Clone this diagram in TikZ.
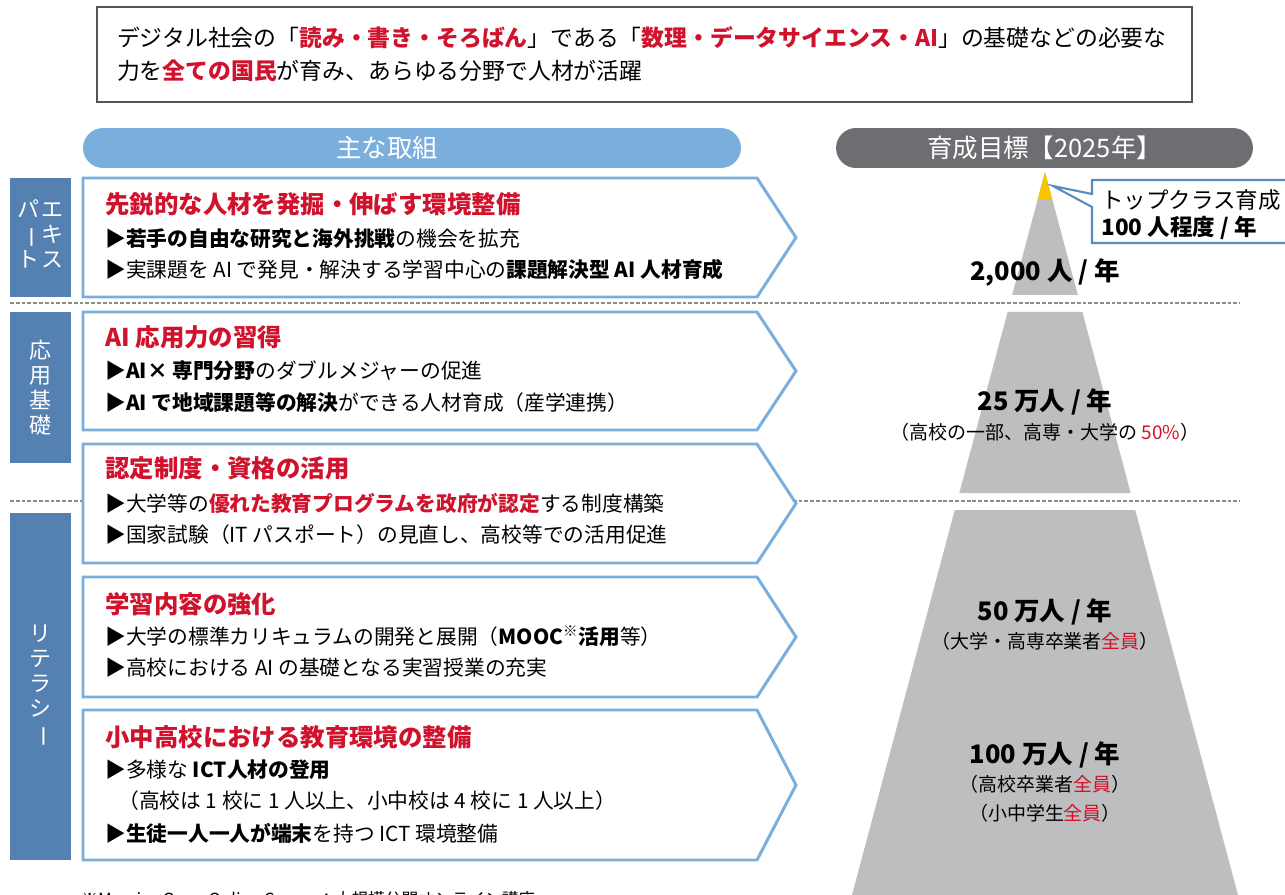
\documentclass[tikz,border=0pt]{standalone}
\usepackage{fontspec}
\setmainfont{Noto Sans CJK JP}
\usepackage{graphicx}
\definecolor{kumiblue}{HTML}{7AAEDD}
\definecolor{catblue}{HTML}{5581B2}
\definecolor{goalgray}{HTML}{6D6E71}
\definecolor{pyrgray}{HTML}{BCBEC0}
\definecolor{tipyellow}{HTML}{F8C500}
\definecolor{accred}{HTML}{D0122C}
\definecolor{sepgray}{HTML}{8A8B8D}
\definecolor{callblue}{HTML}{5B8BC0}
\definecolor{leadgray}{HTML}{555555}
\newcommand\redb[1]{{\color{accred}\bfseries #1}}
\newcommand\redn[1]{{\color{accred}#1}}
\newcommand\vbar{\rotatebox[origin=c]{-90}{ー}}
\begin{document}
\begin{tikzpicture}[x=0.02cm, y=-0.02cm,
  pill/.style={rounded corners=0.4cm, minimum height=0.8cm, text=white, inner sep=0,
    font=\fontsize{14.5pt}{16pt}\selectfont},
  catbox/.style={fill=catblue, minimum width=1.22cm, text=white, inner sep=0, align=center,
    font=\fontsize{12.5pt}{14.2pt}\selectfont},
  ttl/.style={anchor=west, text=accred, inner sep=0, font=\fontsize{13.9pt}{16pt}\selectfont\bfseries},
  item/.style={anchor=west, inner sep=0, font=\fontsize{11.8pt}{14pt}\selectfont},
  num/.style={inner sep=0, font=\fontsize{14.5pt}{16pt}\selectfont\bfseries},
  sub/.style={inner sep=0, font=\fontsize{10.8pt}{13pt}\selectfont},
  chev/.style={draw=kumiblue, line width=1.7pt, fill=white},
  sep/.style={draw=sepgray, line width=1.3pt, dash pattern=on 2.2pt off 1.1pt},
]
\useasboundingbox (0,0) rectangle (1285,895);

% lead text
\node[draw=leadgray, line width=0.8pt, text width=21.1cm, inner xsep=0.4cm, minimum height=1.9cm,
  align=left, font=\fontsize{13pt}{18.7pt}\selectfont] (lead) at (644.5,54.5)
  {デジタル社会の「\redb{読み・書き・そろばん}」である「\redb{数理・データサイエンス・AI}」の基礎などの必要な\\
   力を\redb{全ての国民}が育み、あらゆる分野で人材が活躍};

% headers
\node[pill, fill=kumiblue, minimum width=13.16cm] (torikumi) at (412,148) {\hspace*{-1cm}主な取組};
\node[pill, fill=goalgray, minimum width=8.34cm] (mokuhyo) at (1044.5,148) {育成目標【2025年】};

% separators
\draw[sep] (10,303) -- (1240,303);
\draw[sep] (10,501) -- (1240,501);

% levels
\node[catbox, minimum height=2.38cm] (expert) at (40.5,237.5)
  {\begin{tabular}{@{}c@{\hspace{1pt}}c@{}}パ & エ\\ \vbar & キ\\ ト & ス\end{tabular}};
\node[catbox, minimum height=3.02cm] (ouyou) at (40.5,387.5) {応\\用\\基\\礎};
\node[catbox, minimum height=6.94cm] (literacy) at (40.5,686.5) {リ\\テ\\ラ\\シ\\\vbar};

% measures
\foreach \ya/\yb in {178/297, 312/430, 444/563, 577/697, 710/860}
  \draw[chev] (83,\ya) -- (757,\ya) -- (796,{(\ya+\yb)/2}) -- (757,\yb) -- (83,\yb) -- cycle;

\node[ttl] (t1) at (105,204) {先鋭的な人材を発掘・伸ばす環境整備};
\node[item] (i11) at (105,239) {▶\textbf{若手の自由な研究と海外挑戦}の機会を拡充};
\node[item] (i12) at (105,270) {▶実課題を AI で発見・解決する学習中心の\textbf{課題解決型 AI 人材育成}};

\node[ttl] (t2) at (105,337) {AI 応用力の習得};
\node[item] (i21) at (105,371) {▶\textbf{AI× 専門分野}のダブルメジャーの促進};
\node[item] (i22) at (105,403) {▶\textbf{AI で地域課題等の解決}ができる人材育成（産学連携）};

\node[ttl] (t3) at (105,468) {認定制度・資格の活用};
\node[item] (i31) at (105,503) {▶大学等の\redb{優れた教育プログラムを政府が認定}する制度構築};
\node[item] (i32) at (105,535) {▶国家試験（IT パスポート）の見直し、高校等での活用促進};

\node[ttl] (t4) at (105,604) {学習内容の強化};
\node[item] (i41) at (105,636) {▶大学の標準カリキュラムの開発と展開（\textbf{MOOC}\textsuperscript{※}\textbf{活用}等）};
\node[item] (i42) at (105,668) {▶高校における AI の基礎となる実習授業の充実};

\node[ttl] (t5) at (105,737) {小中高校における教育環境の整備};
\node[item] (i51) at (105,770) {▶多様な \textbf{ICT人材の登用}};
\node[item] (i52) at (118,801) {（高校は 1 校に 1 人以上、小中校は 4 校に 1 人以上）};
\node[item] (i53) at (105,833) {▶\textbf{生徒一人一人が端末}を持つ ICT 環境整備};

% pyramid
\begin{scope}
  \clip (800,172) rectangle (1285,295) (800,312) rectangle (1285,493) (800,510) rectangle (1285,895);
  \fill[pyrgray] (1045,172) -- (852,895) -- (1238,895) -- cycle;
\end{scope}
\fill[tipyellow] (1045,172) -- (1037.8,199) -- (1052.2,199) -- cycle;

% callout
\draw[callblue, line width=1.2pt, fill=white] (1300,180) -- (1092,180) -- (1092,194) -- (1053,186)
  -- (1092,207) -- (1092,243) -- (1300,243);
\node[anchor=west, inner sep=0, font=\fontsize{12.8pt}{15pt}\selectfont] (topcls) at (1101,200) {トップクラス育成};
\node[anchor=west, inner sep=0, font=\fontsize{12.8pt}{15pt}\selectfont\bfseries] (topnum) at (1101,228) {100 人程度 / 年};

\node[num] (n2000) at (1045,272) {2,000 人 / 年};
\node[num] (n25) at (1045,402) {25 万人 / 年};
\node[sub] (s25) at (1045,432) {（高校の一部、高専・大学の \redn{50\%}）};
\node[num] (n50) at (1045,612) {50 万人 / 年};
\node[sub] (s50) at (1045,641) {（大学・高専卒業者\redn{全員}）};
\node[num] (n100) at (1045,755) {100 万人 / 年};
\node[sub] (s100a) at (1045,784) {（高校卒業者\redn{全員}）};
\node[sub] (s100b) at (1045,813) {（小中学生\redn{全員}）};

% footnote
\node[anchor=base west, inner sep=0, font=\fontsize{9.5pt}{11pt}\selectfont] (note) at (81,905)
  {※Massive Open Online Course：大規模公開オンライン講座};
\end{tikzpicture}
\end{document}
